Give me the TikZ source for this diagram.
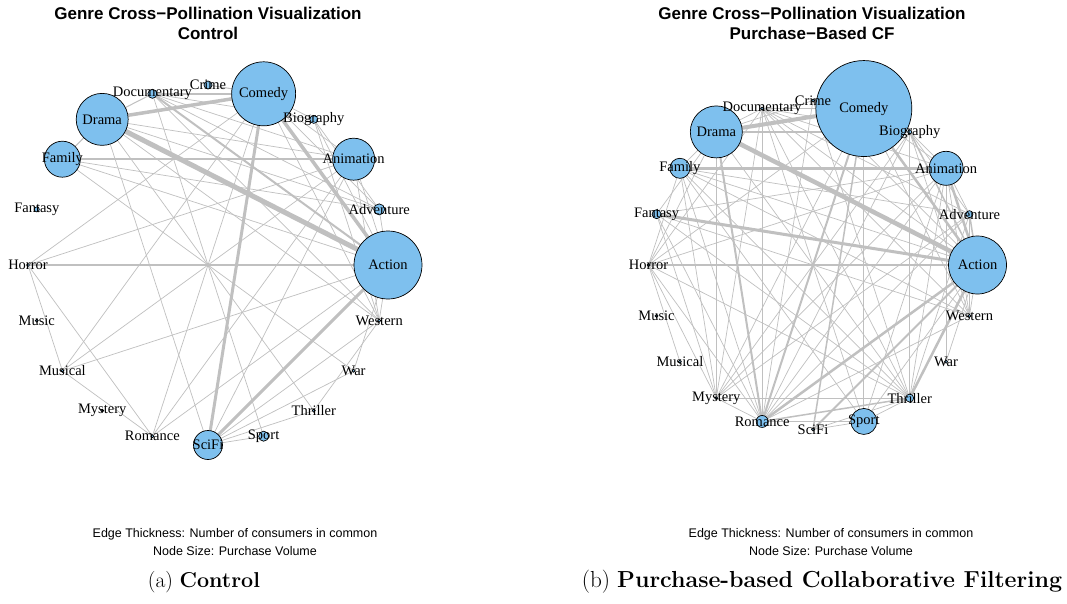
\documentclass[tikz,border=0pt]{standalone}
\usepackage{fontspec}
\newfontfamily\lblserif{Liberation Serif}
\newfontfamily\sansfam{Liberation Sans}
\definecolor{nodeblue}{RGB}{126,192,238}
\definecolor{edgegray}{RGB}{192,192,192}
\tikzset{
  lnk/.style={draw=edgegray, line width=#1pt},
  vtx/.style={circle, draw=black, fill=nodeblue, line width=0.7pt, inner sep=0pt, minimum size=#1pt},
  lbl/.style={font=\lblserif\fontsize{14.5}{16}\selectfont, inner sep=0pt, text=black},
  ttl/.style={font=\sansfam\bfseries\fontsize{17}{19}\selectfont, inner sep=0pt},
  captxt/.style={font=\sansfam\fontsize{12.5}{14}\selectfont, inner sep=0pt},
  subtxt/.style={font=\fontsize{#1}{24}\selectfont, inner sep=0pt}
}
\begin{document}
\begin{tikzpicture}[x=1pt,y=-1pt]
\useasboundingbox[fill=white] (0,0) rectangle (1067,604);
\foreach \n [count=\i from 0] in {Action,Adventure,Animation,Biography,Comedy,Crime,Documentary,Drama,Family,Fantasy,Horror,Music,Musical,Mystery,Romance,SciFi,Sport,Thriller,War,Western} {
  \coordinate (L\n) at ({208+180*cos(18*\i)},{265-180*sin(18*\i)});
  \coordinate (R\n) at ({813+164.5*cos(18*\i)},{265-164.5*sin(18*\i)});
}
% ---------- left graph edges
\foreach \a/\b/\w in {
 Action/Adventure/0.7, Action/Animation/0.7, Action/Western/0.7, Action/War/0.7, Action/Musical/0.7,
 Action/Romance/0.7, Action/Family/0.7, Action/Biography/0.7,
 Animation/Comedy/0.7, Animation/Documentary/0.7, Animation/Drama/0.7, Animation/Western/0.7,
 Animation/Musical/0.7, Animation/Horror/0.7, Animation/SciFi/0.7, Animation/Romance/0.7,
 Comedy/Adventure/0.7, Comedy/Western/0.7, Comedy/Romance/0.7, Comedy/Horror/0.7, Comedy/Biography/0.7,
 Documentary/Adventure/0.7, Documentary/Western/0.7, Documentary/Sport/0.7, Documentary/Biography/0.7,
 Drama/SciFi/0.7, Drama/Thriller/0.7, Drama/Western/0.7, Drama/Adventure/0.7,
 Family/Adventure/0.7, Family/War/0.7,
 Horror/Musical/0.7, Horror/Romance/0.7, Musical/Romance/0.7, Musical/Comedy/0.7,
 SciFi/Sport/0.7, SciFi/Thriller/0.7, SciFi/War/0.7, SciFi/Western/0.7,
 Thriller/Western/0.7, Biography/Western/0.7, Biography/Adventure/0.7,
 Drama/Family/1, Crime/Comedy/1, Drama/Documentary/1,
 Horror/Action/1.5, Family/Animation/2, Documentary/Comedy/2, Documentary/Action/2,
 SciFi/Action/3, Comedy/SciFi/3, Comedy/Action/3.5, Drama/Comedy/3.5, Drama/Action/5}
 \draw[lnk=\w] (L\a) -- (L\b);
% ---------- right graph edges
\foreach \a/\b/\w in {
 Romance/Horror/0.7, Romance/Fantasy/0.7, Romance/Family/0.7, Romance/Crime/0.7, Romance/Biography/0.7,
 Romance/Animation/0.7, Romance/Adventure/0.7, Romance/Western/0.7, Romance/Sport/0.7, Romance/Mystery/0.7,
 Thriller/Horror/0.7, Thriller/Fantasy/0.7, Thriller/Family/0.7, Thriller/Drama/0.7, Thriller/Documentary/0.7,
 Thriller/Animation/0.7, Thriller/Adventure/0.7, Thriller/Sport/0.7, Thriller/SciFi/0.7, Thriller/Crime/0.7,
 Mystery/Horror/0.7, Mystery/Fantasy/0.7, Mystery/Family/0.7, Mystery/Documentary/0.7, Mystery/Comedy/0.7,
 Mystery/Animation/0.7, Mystery/Adventure/0.7, Mystery/Biography/0.7,
 Horror/Family/0.7, Horror/Drama/0.7, Horror/Documentary/0.7, Horror/Comedy/0.7, Horror/Animation/0.7, Horror/Musical/0.7,
 Family/Drama/0.7, Family/Action/0.7, Family/Adventure/0.7, Family/Western/0.7, Family/Sport/0.7,
 Fantasy/Drama/0.7, Fantasy/Animation/0.7, Fantasy/Western/0.7,
 Documentary/Drama/0.7, Documentary/Animation/0.7, Documentary/Adventure/0.7, Documentary/Action/0.7,
 Documentary/Western/0.7, Documentary/Sport/0.7, Documentary/Biography/0.7,
 Crime/Comedy/0.7, Crime/Drama/0.7, Crime/Action/0.7,
 Comedy/Animation/0.7, Comedy/Western/0.7, Comedy/Sport/0.7,
 Biography/Animation/0.7, Biography/Adventure/0.7, Biography/Western/0.7,
 Animation/Adventure/0.7, Animation/Western/0.7, Animation/War/0.7, Animation/Sport/0.7,
 Adventure/Western/0.7, Action/Western/0.7, Action/Sport/0.7, Action/War/0.7, Sport/SciFi/0.7,
 Mystery/Thriller/1, Biography/Thriller/1.2, Drama/Mystery/1.2, Documentary/Romance/1.2,
 Drama/Biography/1.2, Romance/Thriller/1.5, Horror/Action/1.5, Documentary/Comedy/1.5,
 Comedy/SciFi/1.5, Adventure/Action/1.5, Biography/Action/1.5,
 Drama/Romance/2, Romance/Comedy/2, SciFi/Action/2,
 Thriller/Action/2.5, Romance/Action/2.5, Animation/Action/2.5, Comedy/Action/2.5,
 Fantasy/Action/3, Family/Animation/3.5, Drama/Comedy/4, Drama/Action/4.5}
 \draw[lnk=\w] (R\a) -- (R\b);
% ---------- vertices
\foreach \n/\d in {Action/68,Adventure/11,Animation/42,Biography/8,Comedy/64,Crime/8,Documentary/9,Drama/52,
 Family/36,Fantasy/5,Horror/3,Music/3,Musical/3,Mystery/3,Romance/3,SciFi/29,Sport/10,Thriller/3,War/3,Western/3}
 \node[vtx=\d] (LN\n) at (L\n) {};
\foreach \n/\d in {Action/58,Adventure/7,Animation/34,Biography/4,Comedy/96,Crime/3,Documentary/3,Drama/52,
 Family/20,Fantasy/9,Horror/3,Music/3,Musical/3,Mystery/3,Romance/12,SciFi/3,Sport/26,Thriller/8,War/3,Western/3}
 \node[vtx=\d] (RN\n) at (R\n) {};
% ---------- labels
\foreach \n in {Action,Adventure,Animation,Biography,Comedy,Crime,Documentary,Drama,Family,Fantasy,Horror,Music,Musical,Mystery,Romance,SciFi,Sport,Thriller,War,Western} {
 \node[lbl] (LT\n) at (L\n) {\n};
 \node[lbl] (RT\n) at (R\n) {\n};
}
% ---------- titles
\node[ttl] (lt1) at (208,13) {Genre Cross−Pollination Visualization};
\node[ttl] (lt2) at (208,33) {Control};
\node[ttl] (rt1) at (812,13) {Genre Cross−Pollination Visualization};
\node[ttl] (rt2) at (812,33) {Purchase−Based CF};
% ---------- captions
\node[captxt] (lc1) at (235,534) {Edge Thickness: Number of consumers in common};
\node[captxt] (lc2) at (235,551) {Node Size: Purchase Volume};
\node[captxt] (rc1) at (831,534) {Edge Thickness: Number of consumers in common};
\node[captxt] (rc2) at (831,551) {Node Size: Purchase Volume};
\node[subtxt=21.5] (sa) at (204,582) {(a) \textbf{Control}};
\node[subtxt=23.2] (sb) at (822,582) {(b) \textbf{Purchase-based Collaborative Filtering}};
\end{tikzpicture}
\end{document}
